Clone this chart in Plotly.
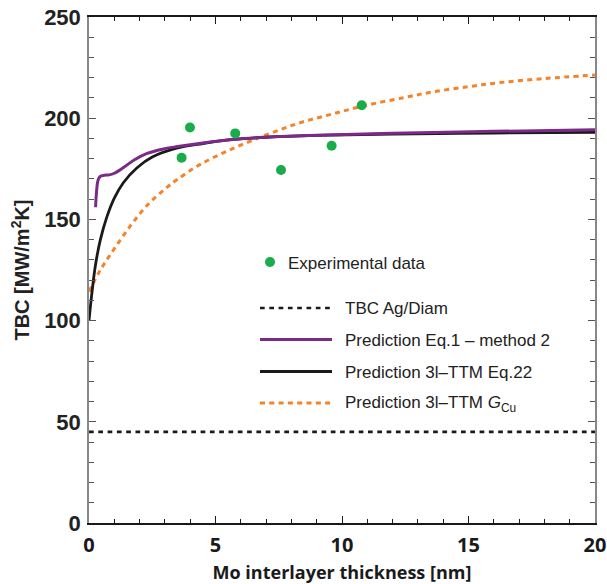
import plotly.graph_objects as go

# ---- data ----
exp_x = [3.66, 3.99, 5.78, 7.59, 9.59, 10.78]
exp_y = [180.5, 195.4, 192.5, 174.4, 186.4, 206.4]

tbc_ag_x = [0, 20]
tbc_ag_y = [45, 45]

eq1_x = [0.26, 0.3, 0.36, 0.45, 0.6, 0.8, 1.0, 1.35, 1.8, 2.3, 2.9, 3.5, 4.5, 5.7, 7, 9, 12, 16, 20]
eq1_y = [156, 164, 169.5, 171.3, 171.8, 172.0, 172.8, 175.5, 179.5, 182.6, 184.7, 186.0, 187.8, 189.5, 190.6, 191.6, 192.6, 193.5, 194.3]

eq22_x = [0, 0.1, 0.25, 0.45, 0.7, 1.0, 1.35, 1.9, 2.5, 3.5, 4.5, 5.7, 7, 9, 12, 16, 20]
eq22_y = [100, 112, 127, 140, 151, 160.5, 168.0, 175.5, 180.8, 185.3, 187.5, 189.5, 190.6, 191.5, 192.2, 192.7, 193.0]

gcu_x = [0, 0.45, 1.0, 1.65, 2.3, 3.0, 3.5, 4.4, 5.7, 7.0, 8.3, 9.6, 11, 12.5, 13.6, 15, 16.25, 18, 20]
gcu_y = [114.3, 125, 135.5, 147, 157, 165, 169.8, 177.2, 185.1, 191.7, 197.6, 202, 206.5, 210.3, 213, 215.6, 217.6, 219.6, 221.3]

x_ticks = [0, 5, 10, 15, 20]
y_ticks = [0, 50, 100, 150, 200, 250]

legend_labels = ["TBC Ag/Diam", "Prediction Eq.1 – method 2",
                 "Prediction 3l–TTM Eq.22", "Prediction 3l–TTM <i>G</i><sub>Cu</sub>"]

GREEN = "#1aab4b"
PURPLE = "#7b2a88"
BLACK = "#1a1a1a"
ORANGE = "#f5832a"
TXT = "#222222"

BLACK_DASH = "4.7px,4.6px"
ORANGE_DASH = "5px,4.3px"

fig = go.Figure()
fig.add_trace(go.Scatter(x=tbc_ag_x, y=tbc_ag_y, mode="lines",
                         line=dict(color=BLACK, width=2.6, dash=BLACK_DASH),
                         name=legend_labels[0], showlegend=False))
fig.add_trace(go.Scatter(x=gcu_x, y=gcu_y, mode="lines", line_shape="spline",
                         line=dict(color=ORANGE, width=3, dash=ORANGE_DASH),
                         name=legend_labels[3], showlegend=False))
fig.add_trace(go.Scatter(x=eq22_x, y=eq22_y, mode="lines", line_shape="spline",
                         line=dict(color=BLACK, width=2.8),
                         name=legend_labels[2], showlegend=False))
fig.add_trace(go.Scatter(x=eq1_x, y=eq1_y, mode="lines", line_shape="spline",
                         line=dict(color=PURPLE, width=3),
                         name=legend_labels[1], showlegend=False))
fig.add_trace(go.Scatter(x=exp_x, y=exp_y, mode="markers",
                         marker=dict(color=GREEN, size=10),
                         name="Experimental data", showlegend=False))

# ---- manual legend (paper coordinates) ----
L, T, W, H = 89, 17, 506, 506
def px(xp): return (xp - L) / W
def py(yp): return (T + H - yp) / H

LEG_FONT = dict(size=17, color=TXT, family="Liberation Sans, Arial, sans-serif")
shapes = []
annos = []
shapes.append(dict(type="circle", xref="paper", yref="paper",
                   x0=px(265), x1=px(275), y0=py(267), y1=py(257),
                   fillcolor=GREEN, line=dict(width=0)))
annos.append(dict(text="Experimental data", xref="paper", yref="paper",
                  x=px(286), y=py(263), xanchor="left", yanchor="middle",
                  showarrow=False, font=LEG_FONT))
rows = [308, 339.5, 371.5, 403]
styles = [dict(color=BLACK, width=2.6, dash=BLACK_DASH),
          dict(color=PURPLE, width=3),
          dict(color=BLACK, width=2.8),
          dict(color=ORANGE, width=3, dash=ORANGE_DASH)]
for yy, st, lab in zip(rows, styles, legend_labels):
    shapes.append(dict(type="line", xref="paper", yref="paper",
                       x0=px(260), x1=px(332), y0=py(yy), y1=py(yy), line=st))
    annos.append(dict(text=lab, xref="paper", yref="paper",
                      x=px(343), y=py(yy + 0.5), xanchor="left", yanchor="middle",
                      showarrow=False, font=LEG_FONT))

fig.update_layout(
    width=607, height=584,
    margin=dict(l=L, r=607 - (L + W), t=T, b=584 - (T + H)),
    plot_bgcolor="white", paper_bgcolor="white",
    shapes=shapes, annotations=annos, showlegend=False,
    xaxis=dict(range=[0, 20], tickvals=x_ticks, ticks="inside", ticklen=7,
               tickwidth=1.3, tickcolor=BLACK, showline=True, linecolor=BLACK,
               linewidth=1.5, mirror="allticks", showgrid=False, zeroline=False,
               automargin=False,
               minor=dict(dtick=1, ticks="inside", ticklen=4, tickcolor=BLACK, tickwidth=1),
               tickfont=dict(family="Open Sans, sans-serif", size=20, color=BLACK,
                             weight="bold"),
               ticklabelstandoff=3,
               title=dict(text="<b>Mo interlayer thickness [nm]</b>",
                          font=dict(family="Open Sans, sans-serif", size=18, color=BLACK),
                          standoff=10)),
    yaxis=dict(range=[0, 250], tickvals=y_ticks, ticks="inside", ticklen=7,
               tickwidth=1.3, tickcolor="#555", showline=True, linecolor="#888",
               linewidth=1.5, mirror="allticks", showgrid=False, zeroline=False,
               automargin=False,
               minor=dict(dtick=10, ticks="inside", ticklen=5, tickcolor="#555", tickwidth=1),
               tickfont=dict(family="Liberation Sans, Arial, sans-serif", size=22,
                             color=TXT, weight="bold"),
               ticklabelstandoff=2,
               title=dict(text="<b>TBC [MW/m<sup>2</sup>K]</b>",
                          font=dict(family="Liberation Sans, Arial, sans-serif", size=20, color=TXT),
                          standoff=9)),
)

fig.write_html("out.html")
